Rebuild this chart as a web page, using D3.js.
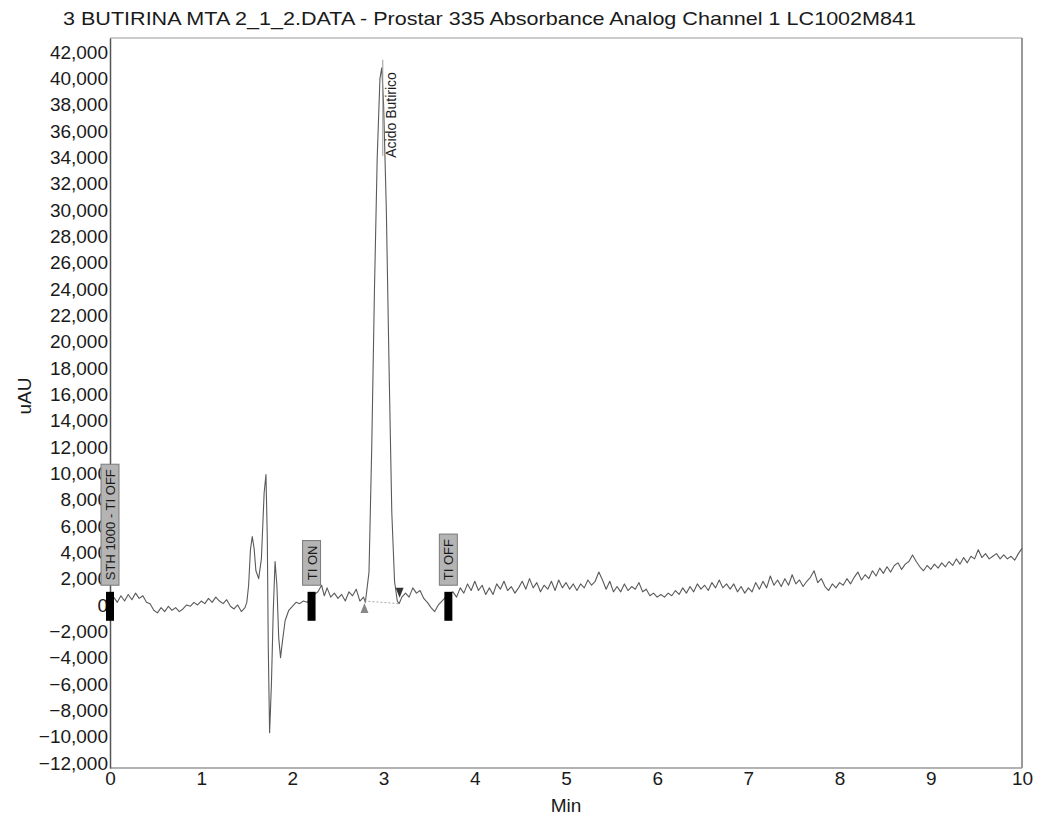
<!DOCTYPE html>
<html>
<head>
<meta charset="utf-8">
<script src="https://cdn.jsdelivr.net/npm/d3@7"></script>
<style>
body { margin: 0; background: #fff; }
text { font-family: "Liberation Sans", Arial, sans-serif; fill: #1a1a1a; }
</style>
</head>
<body>
<div class="container"></div>
<script>
var title = "3 BUTIRINA MTA 2_1_2.DATA - Prostar 335 Absorbance Analog Channel 1 LC1002M841";
var xTicks = [0, 1, 2, 3, 4, 5, 6, 7, 8, 9, 10];
var yTicks = [-12000, -10000, -8000, -6000, -4000, -2000, 0, 2000, 4000, 6000, 8000, 10000,
  12000, 14000, 16000, 18000, 20000, 22000, 24000, 26000, 28000, 30000, 32000, 34000,
  36000, 38000, 40000, 42000];

// trace [min, uAU]
var baselineA = [[0.00,0],[0.04,600],[0.08,200],[0.12,700],[0.16,300],[0.20,800],[0.24,400],[0.28,900],
  [0.32,500],[0.36,700],[0.40,200],[0.44,100],[0.48,-400],[0.52,-600],[0.56,-200],[0.60,-500],
  [0.64,-100],[0.68,-400],[0.72,-200],[0.76,-500],[0.80,-300],[0.84,0],[0.88,-100],[0.92,200],
  [0.96,0],[1.00,300],[1.04,100],[1.08,500],[1.12,200],[1.16,600],[1.20,300],[1.24,100],
  [1.28,400],[1.32,-100],[1.36,-300],[1.40,0],[1.44,-500],[1.48,-200]];

var solventFront = [[1.50,200],[1.52,1500],[1.54,4200],[1.56,5200],[1.58,4300],[1.60,2600],[1.63,2000],
  [1.66,3500],[1.69,8500],[1.71,9900],[1.725,5000],[1.735,-3000],[1.75,-9700],[1.77,-6000],
  [1.79,-500],[1.81,3300],[1.83,1500],[1.85,-2500],[1.87,-4000],[1.89,-2800],[1.92,-1200],
  [1.96,-400],[2.00,-100],[2.04,200],[2.08,100],[2.12,300],[2.16,200],[2.20,500]];

var baselineB = [[2.24,800],[2.28,1000],[2.32,1500],[2.35,700],[2.38,1300],[2.42,600],[2.46,900],
  [2.50,500],[2.54,800],[2.58,300],[2.62,1000],[2.66,700],[2.70,1200],[2.74,300],[2.78,600]];

var peakButirico = [[2.80,200],[2.84,2500],[2.87,12000],[2.90,24000],[2.93,34000],[2.96,40000],
  [2.98,40800],[3.00,38000],[3.03,30000],[3.06,18000],[3.09,7000],[3.12,1800],[3.15,300],[3.17,100]];

var baselineC = [[3.20,600],[3.24,900],[3.28,600],[3.32,1300],[3.36,900],[3.40,1100],[3.44,500],
  [3.48,200],[3.52,-200],[3.56,-500],[3.60,0],[3.64,300],[3.68,600],[3.72,800],[3.76,1000],
  [3.80,600],[3.84,1300],[3.88,900],[3.92,1600],[3.96,1100],[4.00,1800],[4.04,1100],[4.08,1500],
  [4.12,800],[4.16,1300],[4.20,800],[4.24,1600],[4.28,1200],[4.32,1800],[4.36,1100],[4.40,1400],
  [4.44,900],[4.48,1300],[4.52,1800],[4.56,1200],[4.60,2000],[4.64,1300],[4.68,1700],[4.72,1000],
  [4.76,1500],[4.80,1200],[4.84,1800],[4.88,1100],[4.92,1900],[4.96,1300],[5.00,1700],[5.04,1200],
  [5.08,1600],[5.12,1100],[5.16,1600],[5.20,1300],[5.24,1900],[5.28,1500],[5.32,1800],[5.36,2500],
  [5.40,1900],[5.44,1200],[5.48,1800],[5.52,1000],[5.56,1400],[5.60,1000],[5.64,1600],[5.68,1100],
  [5.72,1400],[5.76,1200],[5.80,1700],[5.84,1000],[5.88,1200],[5.92,700],[5.96,900],[6.00,600]];

var baselineD = [[6.04,800],[6.08,600],[6.12,900],[6.16,700],[6.20,1100],[6.24,800],[6.28,1300],
  [6.32,900],[6.36,1400],[6.40,1000],[6.44,1600],[6.48,1200],[6.52,1500],[6.56,1100],[6.60,1700],
  [6.64,1300],[6.68,1900],[6.72,1300],[6.76,1600],[6.80,1200],[6.84,1600],[6.88,1000],[6.92,1400],
  [6.96,900],[7.00,1300],[7.04,1000],[7.08,1700],[7.12,1200],[7.16,1800],[7.20,1300],[7.24,2200],
  [7.28,1500],[7.32,1900],[7.36,1400],[7.40,2000],[7.44,1500],[7.48,2300],[7.52,1600],[7.56,1900],
  [7.60,1400],[7.64,1800],[7.68,2100],[7.72,2600],[7.76,1700],[7.80,2000],[7.84,1400],[7.88,1100],
  [7.92,1600],[7.96,1300],[8.00,1700],[8.04,1500],[8.08,2000],[8.12,1600],[8.16,2100],[8.20,2500],
  [8.24,1900],[8.28,2300],[8.32,2000],[8.36,2600],[8.40,2200],[8.44,2800],[8.48,2400],[8.52,2900],
  [8.56,2500],[8.60,3000],[8.64,3200],[8.68,2700],[8.72,3100],[8.76,3300],[8.80,3800],[8.84,3300],
  [8.88,2900],[8.92,2600],[8.96,3000],[9.00,2700],[9.04,3100],[9.08,2800],[9.12,3200],[9.16,2900],
  [9.20,3300],[9.24,3000],[9.28,3500],[9.32,3100],[9.36,3600],[9.40,3200],[9.44,3700],[9.48,3500],
  [9.52,4200],[9.56,3600],[9.60,3900],[9.64,3500],[9.68,3700],[9.72,3900],[9.76,3500],[9.80,3800],
  [9.84,3500],[9.88,3700],[9.92,3400],[9.96,3900],[10.00,4300]];

// timed events and peak
var events = [
  {t: 0.0, label: "STH 1000 - TI OFF"},
  {t: 2.21, label: "TI ON"},
  {t: 3.71, label: "TI OFF"}
];
var peakName = "Acido Butirico";
var peakApex = 2.98;
var peakStart = [2.79, 300];
var peakEnd = [3.17, 100];

var margin = {top: 38, right: 22, bottom: 51, left: 110},
    width = 1044 - margin.left - margin.right,
    height = 819 - margin.top - margin.bottom;

var x_scale = d3.scaleLinear().domain([0, 10]).range([0, width]);
var y_scale = d3.scaleLinear().domain([-12380, 43060]).range([height, 0]);

var svg = d3.select("div.container").append("svg")
    .attr("width", width + margin.left + margin.right)
    .attr("height", height + margin.top + margin.bottom);

// title
var t = svg.append("text")
    .attr("x", 63)
    .attr("y", 25)
    .style("font-size", "19px")
    .text(title);
t.attr("textLength", 853).attr("lengthAdjust", "spacingAndGlyphs");

var g = svg.append("g")
    .attr("transform", "translate(" + margin.left + "," + margin.top + ")");

// frame
g.append("line").attr("x1", 0).attr("x2", width).attr("y1", 0).attr("y2", 0)
    .attr("stroke", "#9a9a9a").attr("stroke-width", 1.2);
g.append("line").attr("x1", width).attr("x2", width).attr("y1", 0).attr("y2", height)
    .attr("stroke", "#777").attr("stroke-width", 1.5);
g.append("line").attr("x1", 0).attr("x2", width).attr("y1", height).attr("y2", height)
    .attr("stroke", "#9a9a9a").attr("stroke-width", 1.5);

// Y axis
var yAxis = g.append("g")
    .call(d3.axisLeft(y_scale).tickValues(yTicks).tickSize(0).tickPadding(2)
      .tickFormat(d3.format(",")));
yAxis.select(".domain").attr("stroke", "#555").attr("stroke-width", 1.5);
yAxis.selectAll("text")
    .style("font-size", "19px")
    .attr("fill", "#1a1a1a")
    .attr("font-family", "Liberation Sans, Arial, sans-serif");

// X axis
var xAxis = g.append("g")
    .attr("transform", "translate(0," + height + ")")
    .call(d3.axisBottom(x_scale).tickValues(xTicks).tickSize(0).tickPadding(4)
      .tickFormat(d3.format("d")));
xAxis.select(".domain").remove();
xAxis.selectAll("text")
    .style("font-size", "19px")
    .attr("fill", "#1a1a1a")
    .attr("font-family", "Liberation Sans, Arial, sans-serif");

svg.append("text")
    .attr("x", margin.left + x_scale(5))
    .attr("y", 812)
    .attr("text-anchor", "middle")
    .style("font-size", "19px")
    .text("Min");

svg.append("text")
    .attr("transform", "translate(31,396) rotate(-90)")
    .attr("text-anchor", "middle")
    .style("font-size", "19px")
    .text("uAU");

// trace
var trace = baselineA.concat(solventFront, baselineB, peakButirico, baselineC, baselineD);
var line = d3.line()
    .x(function(d) { return x_scale(d[0]); })
    .y(function(d) { return y_scale(d[1]); });

g.append("path")
    .datum(trace)
    .attr("fill", "none")
    .attr("stroke", "#5a5a5a")
    .attr("stroke-width", 1.1)
    .attr("stroke-linejoin", "round")
    .attr("d", line);

// integration baseline and peak marks
g.append("line")
    .attr("x1", x_scale(peakStart[0])).attr("y1", y_scale(peakStart[1]))
    .attr("x2", x_scale(peakEnd[0])).attr("y2", y_scale(peakEnd[1]))
    .attr("stroke", "#aaa").attr("stroke-width", 1)
    .style("stroke-dasharray", "2,2");

var sx = x_scale(peakStart[0]), sy = y_scale(peakStart[1]);
g.append("path")
    .attr("d", "M" + sx + "," + (sy + 2) + "l-4,10h8z")
    .attr("fill", "#888");
var ex = x_scale(peakEnd[0]), ey = y_scale(peakEnd[1]);
g.append("path")
    .attr("d", "M" + (ex - 3.5) + "," + (ey - 16) + "h8l-4,10z")
    .attr("fill", "#333");

// peak name
var apexX = x_scale(peakApex);
var apexY = y_scale(d3.max(peakButirico, function(d) { return d[1]; }));
g.append("line")
    .attr("x1", apexX + 1).attr("x2", apexX + 1)
    .attr("y1", apexY - 8).attr("y2", apexY + 88)
    .attr("stroke", "#999").attr("stroke-width", 1);
g.append("text")
    .attr("transform", "translate(" + (apexX + 14) + "," + (apexY + 90) + ") rotate(-90)")
    .style("font-size", "14px")
    .text(peakName);

// event boxes
events.forEach(function(ev) {
  var cx = x_scale(ev.t);
  var bottom = y_scale(1500);
  var lab = g.append("text")
      .style("font-size", "13px")
      .text(ev.label);
  var len = lab.node().getComputedTextLength();
  var h = len + 10;
  g.insert("rect", function() { return lab.node(); })
      .attr("x", cx - 9).attr("y", bottom - h)
      .attr("width", 18).attr("height", h)
      .attr("fill", "#b4b4b4").attr("stroke", "#7a7a7a").attr("stroke-width", 1);
  lab.attr("transform", "translate(" + (cx + 5) + "," + (bottom - 5) + ") rotate(-90)");
  g.append("rect")
      .attr("x", cx - 4).attr("y", y_scale(1000))
      .attr("width", 8).attr("height", y_scale(-1200) - y_scale(1000))
      .attr("fill", "#000");
});
</script>
</body>
</html>
